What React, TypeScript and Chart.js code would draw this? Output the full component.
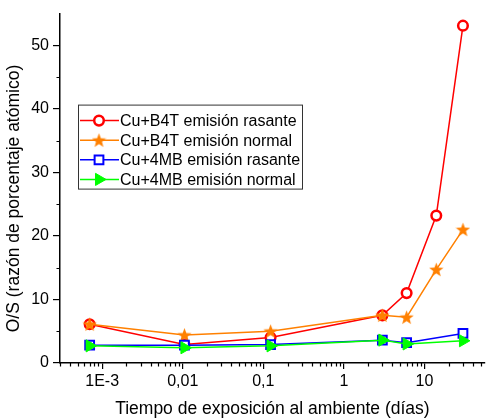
import React, { useEffect, useRef } from 'react';
import { Chart, registerables } from 'chart.js';
import { drawPoint } from 'chart.js/helpers';

Chart.register(...registerables);

const seriesLabels = [
  'Cu+B4T emisión rasante',
  'Cu+B4T emisión normal',
  'Cu+4MB emisión rasante',
  'Cu+4MB emisión normal',
];
const timesB4T = [7e-4, 0.0105, 0.123, 3, 6, 14, 30];
const b4tRasante = [6.1, 2.9, 4.0, 7.5, 11.0, 23.2, 53.1];
const b4tNormal = [6.1, 4.4, 5.0, 7.5, 7.2, 14.7, 21.0];
const times4MB = [7e-4, 0.0105, 0.123, 3, 6, 30];
const mbRasante = [2.8, 2.8, 2.9, 3.6, 3.2, 4.65];
const mbNormal = [2.7, 2.4, 2.7, 3.6, 3.0, 3.5];

const xTickValues = [1e-3, 0.01, 0.1, 1, 10];
const xTickLabels = ['1E-3', '0,01', '0,1', '1', '10'];
const yTickValues = [0, 10, 20, 30, 40, 50];
const yMinorValues = [5, 15, 25, 35, 45];
const xTitle = 'Tiempo de exposición al ambiente (días)';
const yTitle = 'O/S (razón de porcentaje atómico)';

const FONT = 'Liberation Sans, Arial, sans-serif';

function makeStar(color: string, size: number) {
  const c = document.createElement('canvas');
  c.width = size;
  c.height = size;
  const ctx = c.getContext('2d')!;
  const cx = size / 2, cy = size / 2 + 0.6, R = size / 2, r = R * 0.42;
  ctx.beginPath();
  for (let i = 0; i < 10; i++) {
    const rad = i % 2 === 0 ? R : r;
    const a = -Math.PI / 2 + (i * Math.PI) / 5;
    const x = cx + rad * Math.cos(a), y = cy + rad * Math.sin(a);
    if (i === 0) ctx.moveTo(x, y); else ctx.lineTo(x, y);
  }
  ctx.closePath();
  ctx.fillStyle = color;
  ctx.fill();
  return c;
}

const toPts = (xs: number[], ys: number[]) => xs.map((x, i) => ({ x, y: ys[i] }));

const minorTicksPlugin = {
  id: 'minorTicks',
  afterDraw(chart: any) {
    const ctx = chart.ctx;
    const xs = chart.scales.x;
    const ys = chart.scales.y;
    ctx.save();
    ctx.strokeStyle = '#000';
    ctx.lineWidth = 1.2;
    ctx.beginPath();
    for (let e = -4; e <= 1; e++) {
      for (let k = 2; k <= 9; k++) {
        const v = k * Math.pow(10, e);
        if (v < xs.min || v > xs.max) continue;
        const px = Math.round(xs.getPixelForValue(v)) + 0.5;
        ctx.moveTo(px, xs.top);
        ctx.lineTo(px, xs.top + 3.5);
      }
    }
    yMinorValues.forEach((v) => {
      const py = Math.round(ys.getPixelForValue(v)) + 0.5;
      ctx.moveTo(ys.right, py);
      ctx.lineTo(ys.right - 3.5, py);
    });
    ctx.stroke();
    // y axis title
    ctx.translate(14.5, 198.5);
    ctx.rotate(-Math.PI / 2);
    ctx.fillStyle = '#000';
    ctx.font = `17.5px ${FONT}`;
    ctx.textAlign = 'center';
    ctx.textBaseline = 'middle';
    ctx.fillText(yTitle, 0, 0);
    ctx.restore();
  },
};

const boxLegendPlugin = {
  id: 'boxLegend',
  afterDraw(chart: any) {
    const ctx = chart.ctx;
    const area = chart.chartArea;
    const x0 = area.left + 18, y0 = area.top + 91;
    const w = 224, h = 84;
    ctx.save();
    ctx.fillStyle = '#fff';
    ctx.fillRect(x0, y0, w, h);
    ctx.strokeStyle = '#333';
    ctx.lineWidth = 1;
    ctx.strokeRect(x0 + 0.5, y0 + 0.5, w, h);
    chart.data.datasets.forEach((ds: any, i: number) => {
      const y = y0 + 16 + i * 19.6;
      ctx.strokeStyle = ds.borderColor;
      ctx.lineWidth = 1.5;
      ctx.beginPath();
      ctx.moveTo(x0 + 2, y);
      ctx.lineTo(x0 + 41, y);
      ctx.stroke();
      ctx.fillStyle = ds.pointBackgroundColor;
      ctx.strokeStyle = ds.pointBorderColor;
      ctx.lineWidth = ds.pointBorderWidth;
      drawPoint(ctx, {
        pointStyle: ds.pointStyle,
        rotation: ds.pointRotation || 0,
        radius: ds.pointRadius,
        borderWidth: ds.pointBorderWidth,
      } as any, x0 + 21, y);
      ctx.fillStyle = '#000';
      ctx.font = `16px ${FONT}`;
      ctx.textBaseline = 'middle';
      ctx.textAlign = 'left';
      ctx.fillText(seriesLabels[i], x0 + 42, y + 1);
    });
    ctx.restore();
  },
};

export default function App() {
  const ref = useRef<HTMLCanvasElement>(null);
  useEffect(() => {
    document.body.style.margin = '0';
    const star = makeStar('#ff8000', 15);
    const chart = new Chart(ref.current!, {
      type: 'line',
      data: {
        datasets: [
          {
            label: seriesLabels[0],
            data: toPts(timesB4T, b4tRasante),
            borderColor: '#ff0000',
            backgroundColor: '#ff0000',
            borderWidth: 1.5,
            pointStyle: 'circle',
            pointRadius: 4.8,
            pointBorderWidth: 2.5,
            pointBackgroundColor: '#ffffff',
            pointBorderColor: '#ff0000',
            order: 3,
          },
          {
            label: seriesLabels[1],
            data: toPts(timesB4T, b4tNormal),
            borderColor: '#ff8000',
            backgroundColor: '#ff8000',
            borderWidth: 1.5,
            pointStyle: star as any,
            pointRadius: 7,
            pointBorderWidth: 0,
            pointBackgroundColor: '#ff8000',
            pointBorderColor: '#ff8000',
            order: 2,
          },
          {
            label: seriesLabels[2],
            data: toPts(times4MB, mbRasante),
            borderColor: '#0000ff',
            backgroundColor: '#0000ff',
            borderWidth: 1.5,
            pointStyle: 'rect',
            pointRadius: 6.2,
            pointBorderWidth: 2,
            pointBackgroundColor: '#ffffff',
            pointBorderColor: '#0000ff',
            order: 1,
          },
          {
            label: seriesLabels[3],
            data: toPts(times4MB, mbNormal),
            borderColor: '#00ff00',
            backgroundColor: '#00ff00',
            borderWidth: 1.5,
            pointStyle: 'triangle',
            pointRotation: 90,
            pointRadius: 7,
            pointBorderWidth: 1,
            pointBackgroundColor: '#00ff00',
            pointBorderColor: '#00ff00',
            order: 0,
          },
        ] as any,
      },
      options: {
        animation: false,
        responsive: false,
        devicePixelRatio: 1,
        clip: false as any,
        layout: { padding: { top: 13, right: 2, left: 0, bottom: 0 } },
        plugins: { legend: { display: false }, tooltip: { enabled: false } },
        scales: {
          x: {
            type: 'logarithmic',
            min: 3.4e-4,
            max: 56,
            afterBuildTicks: (s: any) => {
              s.ticks = xTickValues.map((v) => ({ value: v }));
            },
            afterFit: (s: any) => {
              s.height = 57;
            },
            ticks: {
              autoSkip: false,
              maxRotation: 0,
              color: '#000',
              padding: 3,
              font: { family: FONT, size: 16 },
              callback: (_v: any, i: number) => xTickLabels[i],
            },
            grid: {
              display: true,
              drawOnChartArea: false,
              drawTicks: true,
              tickLength: 6,
              color: '#000',
              lineWidth: 1.2,
            },
            border: { display: true, color: '#000', width: 1.5 },
            title: {
              display: true,
              text: xTitle,
              color: '#000',
              font: { family: FONT, size: 17.5 },
              padding: { top: 0, bottom: 0 },
            },
          },
          y: {
            type: 'linear',
            min: 0,
            max: 55,
            afterBuildTicks: (s: any) => {
              s.ticks = yTickValues.map((v) => ({ value: v }));
            },
            afterFit: (s: any) => {
              s.width = 60;
            },
            ticks: {
              color: '#000',
              padding: 4,
              font: { family: FONT, size: 16 },
            },
            grid: {
              display: true,
              drawOnChartArea: false,
              drawTicks: true,
              tickLength: 7,
              color: '#000',
              lineWidth: 1.2,
            },
            border: { display: true, color: '#000', width: 1.5 },
            title: { display: false },
          },
        },
      },
      plugins: [minorTicksPlugin, boxLegendPlugin],
    } as any);
    return () => chart.destroy();
  }, []);
  return <canvas ref={ref} width={493} height={420} style={{ display: 'block' }} />;
}
